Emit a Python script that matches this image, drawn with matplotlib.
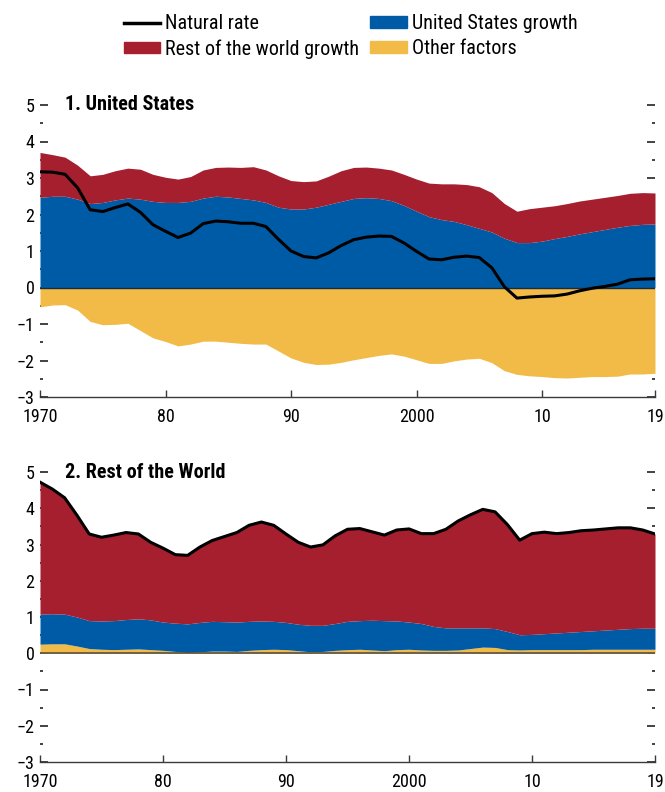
import numpy as np
import matplotlib
matplotlib.use("Agg")
import matplotlib.pyplot as plt
from matplotlib import font_manager
from matplotlib.lines import Line2D
from matplotlib.patches import Patch
from matplotlib.ticker import MultipleLocator

# prefer a narrow sans face if one is installed
installed = {f.name for f in font_manager.fontManager.ttflist}
narrow = [n for n in ['Liberation Sans Narrow', 'Arial Narrow', 'Roboto Condensed',
                      'Open Sans Condensed', 'DejaVu Sans Condensed']
          if n in installed]
cond_file = font_manager.findfont(font_manager.FontProperties(
    family='DejaVu Sans', stretch='condensed'))
if narrow:
    FAMILY, STRETCH, SIZE = narrow[0], 'normal', 14.5
elif 'Condensed' in cond_file:
    FAMILY, STRETCH, SIZE = 'DejaVu Sans', 'condensed', 13
else:
    FAMILY, STRETCH, SIZE = 'Liberation Sans', 'normal', 13
plt.rcParams['font.family'] = [FAMILY, 'DejaVu Sans']
plt.rcParams['font.stretch'] = STRETCH
plt.rcParams['font.size'] = SIZE
TICK_SIZE = SIZE - 1.5

# panel 1: contributions to the US natural rate, 1970-2019
us_years = np.arange(1970, 2020)
us_us_growth = [2.47, 2.50, 2.50, 2.42, 2.30, 2.33, 2.40, 2.45, 2.42, 2.36,
                2.33, 2.33, 2.36, 2.45, 2.50, 2.48, 2.44, 2.40, 2.33, 2.20,
                2.15, 2.15, 2.20, 2.28, 2.36, 2.44, 2.46, 2.44, 2.38, 2.25,
                2.09, 1.94, 1.86, 1.81, 1.72, 1.62, 1.52, 1.35, 1.23, 1.23,
                1.27, 1.34, 1.40, 1.47, 1.53, 1.59, 1.65, 1.70, 1.73, 1.74]
us_row_growth = [1.23, 1.14, 1.07, 0.93, 0.76, 0.77, 0.80, 0.82, 0.82, 0.74,
                 0.69, 0.64, 0.68, 0.77, 0.79, 0.82, 0.85, 0.91, 0.89, 0.86,
                 0.78, 0.75, 0.72, 0.77, 0.84, 0.85, 0.84, 0.83, 0.84, 0.85,
                 0.88, 0.92, 0.98, 1.03, 1.10, 1.14, 1.08, 0.95, 0.86, 0.93,
                 0.93, 0.90, 0.90, 0.90, 0.89, 0.88, 0.87, 0.88, 0.87, 0.85]
us_other = [-0.53, -0.48, -0.47, -0.62, -0.93, -1.02, -1.01, -0.98, -1.18, -1.38,
            -1.48, -1.60, -1.55, -1.47, -1.47, -1.50, -1.53, -1.55, -1.55, -1.74,
            -1.93, -2.05, -2.11, -2.10, -2.05, -1.98, -1.92, -1.86, -1.82, -1.88,
            -1.98, -2.08, -2.08, -2.01, -1.96, -1.94, -2.06, -2.28, -2.38, -2.42,
            -2.44, -2.47, -2.48, -2.46, -2.44, -2.44, -2.43, -2.37, -2.37, -2.35]

# panel 2: contributions to the rest-of-world natural rate
row_years = np.arange(1970, 2021)
row_us_growth = [0.83, 0.83, 0.82, 0.80, 0.77, 0.78, 0.80, 0.82, 0.83, 0.82,
                 0.78, 0.78, 0.79, 0.81, 0.82, 0.81, 0.81, 0.80, 0.79, 0.77,
                 0.75, 0.73, 0.73, 0.72, 0.74, 0.78, 0.79, 0.82, 0.83, 0.79,
                 0.75, 0.73, 0.66, 0.62, 0.61, 0.57, 0.53, 0.52, 0.50, 0.42,
                 0.42, 0.44, 0.46, 0.48, 0.50, 0.51, 0.53, 0.55, 0.57, 0.58, 0.58]
row_row_growth = [3.64, 3.44, 3.21, 2.81, 2.39, 2.31, 2.36, 2.40, 2.34, 2.14,
                  2.04, 1.89, 1.89, 2.08, 2.23, 2.35, 2.47, 2.65, 2.73, 2.65,
                  2.44, 2.26, 2.16, 2.22, 2.42, 2.54, 2.54, 2.44, 2.36, 2.51,
                  2.57, 2.48, 2.56, 2.72, 2.95, 3.12, 3.27, 3.22, 2.95, 2.61,
                  2.78, 2.80, 2.74, 2.75, 2.78, 2.78, 2.79, 2.80, 2.78, 2.71, 2.60]
row_other = [0.25, 0.26, 0.26, 0.20, 0.13, 0.11, 0.10, 0.11, 0.12, 0.10,
             0.08, 0.05, 0.02, 0.04, 0.06, 0.06, 0.05, 0.08, 0.10, 0.11,
             0.10, 0.07, 0.04, 0.05, 0.08, 0.10, 0.11, 0.09, 0.07, 0.10,
             0.11, 0.09, 0.08, 0.08, 0.09, 0.13, 0.17, 0.16, 0.10, 0.09,
             0.10, 0.10, 0.10, 0.10, 0.10, 0.11, 0.11, 0.11, 0.11, 0.11, 0.11]

tick_years = [1970, 1980, 1990, 2000, 2010]
tick_labels = ['1970', '80', '90', '2000', '10', '19']

RED = '#A51F2F'
BLUE = '#005BA7'
YELLOW = '#F2BB48'


def style_axis(ax, x_end, title):
    ax.set_xlim(1970, x_end)
    ax.set_ylim(-3, 5)
    ax.set_axisbelow(True)
    for side in ['top', 'left', 'right']:
        ax.spines[side].set_visible(False)
    ax.spines['bottom'].set_color('#3a3a3a')
    ax.spines['bottom'].set_linewidth(1.0)
    ax.set_xticks(tick_years + [x_end])
    ax.set_xticklabels(tick_labels)
    ax.tick_params(axis='x', direction='in', length=5, width=1,
                   color='#3a3a3a', pad=8, labelsize=TICK_SIZE)
    ax.yaxis.set_major_locator(MultipleLocator(1))
    ax.yaxis.set_minor_locator(MultipleLocator(0.5))
    ax.tick_params(axis='y', which='both', direction='in', left=True,
                   right=True, width=1.2, color='#222222', pad=4,
                   labelsize=TICK_SIZE)
    ax.tick_params(axis='y', which='major', length=5.5)
    ax.tick_params(axis='y', which='minor', length=2.5)
    ax.text(1972, 5, title, fontweight='bold', fontsize=SIZE,
            va='center', ha='left')


fig = plt.figure(figsize=(6.65, 7.92), dpi=100)

# top panel
ax1 = fig.add_axes([40 / 665, 1 - 397 / 792, 615 / 665, 292 / 792])
us_a = np.array(us_us_growth)
us_b = us_a + np.array(us_row_growth)
us_c = np.array(us_other)
ax1.fill_between(us_years, 0, us_a, color=BLUE, lw=0)
ax1.fill_between(us_years, us_a, us_b, color=RED, lw=0)
ax1.fill_between(us_years, 0, us_c, color=YELLOW, lw=0)
ax1.axhline(0, color='#1d2b3a', lw=1, zorder=2)
ax1.plot(us_years, us_b + us_c, color='black', lw=2.2, zorder=3)
style_axis(ax1, 2019, '1. United States')

# bottom panel
ax2 = fig.add_axes([40 / 665, 1 - 762 / 792, 615 / 665, 290 / 792])
rw_a = np.array(row_other)
rw_b = rw_a + np.array(row_us_growth)
rw_c = rw_b + np.array(row_row_growth)
ax2.fill_between(row_years, 0, rw_a, color=YELLOW, lw=0)
ax2.fill_between(row_years, rw_a, rw_b, color=BLUE, lw=0)
ax2.fill_between(row_years, rw_b, rw_c, color=RED, lw=0)
ax2.axhline(0, color='#5a5040', lw=1.2, zorder=2)
ax2.plot(row_years, rw_c, color='black', lw=2.2, zorder=3)
style_axis(ax2, 2020, '2. Rest of the World')

handles = [Line2D([], [], color='black', lw=2.5),
           Patch(color=RED),
           Patch(color=BLUE),
           Patch(color=YELLOW)]
labels = ['Natural rate', 'Rest of the world growth',
          'United States growth', 'Other factors']
fig.legend(handles, labels, ncol=2, loc='upper left',
           bbox_to_anchor=(124 / 665, 1 - 14 / 792), frameon=False,
           borderpad=0, borderaxespad=0,
           handlelength=1.8, handleheight=0.5, handletextpad=0.25,
           columnspacing=0.55, labelspacing=0.3, fontsize=SIZE)

fig.savefig('out.png', dpi=100)
